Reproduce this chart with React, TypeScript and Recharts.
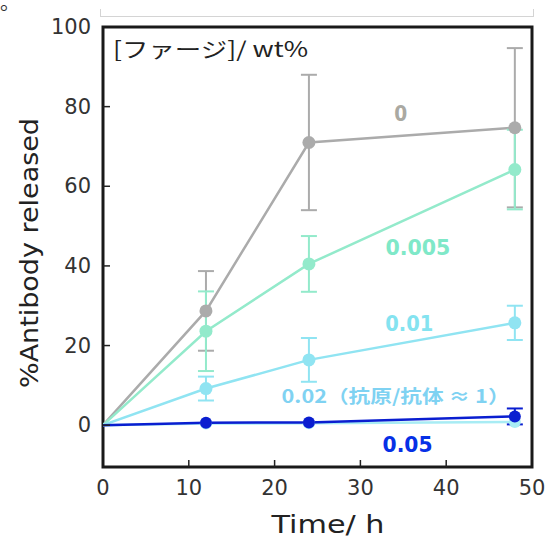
import { LineChart, Line, XAxis, YAxis, ErrorBar, ReferenceArea, ReferenceDot } from 'recharts'

// time points (h)
const times = [0, 12, 24, 48]

// % antibody released for each phage concentration (wt%)
const phage0 = [0, 28.7, 71, 74.7]
const phage0Err = [0, 10, 17, 20]
const phage0005 = [0, 23.6, 40.5, 64.2]
const phage0005Err = [0, 10, 7, 10]
const phage001 = [0, 9.2, 16.4, 25.7]
const phage001Err = [0, 3, 5.5, 4.3]
const phage002 = [0, 0.4, 0.5, 0.8]
const phage002Err = [0, 0, 0, 0]
const phage005 = [0, 0.6, 0.7, 2.2]
const phage005Err = [0, 0, 0, 2]

const xTicks = [0, 10, 20, 30, 40, 50]
const yTicks = [0, 20, 40, 60, 80, 100]

const toRows = (values: number[], errors: number[]) =>
  times.map((t, i) => ({ t, v: values[i], err: errors[i] }))

const series = [
  { id: 's0', rows: toRows(phage0, phage0Err), color: '#ababab', r: 6.5 },
  { id: 's0005', rows: toRows(phage0005, phage0005Err), color: '#93eacb', r: 6.5 },
  { id: 's001', rows: toRows(phage001, phage001Err), color: '#90e4f2', r: 6.5 },
  { id: 's002', rows: toRows(phage002, phage002Err), color: '#a8ecf4', r: 6 },
  { id: 's005', rows: toRows(phage005, phage005Err), color: '#0a1ed0', r: 6 }
]

// labels placed in data coordinates
const labels = [
  { x: 34.7, y: 78.1, text: '0', color: '#aaa9a2', width: 13, cjk: false },
  { x: 36.7, y: 44.5, text: '0.005', color: '#7fe8c8', width: 65, cjk: false },
  { x: 35.7, y: 25.4, text: '0.01', color: '#84e3f0', width: 48, cjk: false },
  { x: 34.1, y: 7.5, text: '0.02（抗原/抗体 ≈ 1）', color: '#7fd2f2', width: 228, cjk: true },
  { x: 35.5, y: -5, text: '0.05', color: '#0630e6', width: 50, cjk: false }
]

const sans = "'DejaVu Sans', Verdana, sans-serif"
const cjk = "'Noto Sans CJK JP', 'DejaVu Sans', sans-serif"

const XTick = (props: any) => {
  const { x, y, payload } = props
  const edge = payload.value === 0 || payload.value === 50
  return (
    <g>
      {!edge && <line x1={x} x2={x} y1={y} y2={y - 7} stroke="#222" strokeWidth={1.5} />}
      <text x={x} y={y + 21} textAnchor="middle" dominantBaseline="central" fontSize={21} fill="#333" fontFamily={sans}>
        {payload.value}
      </text>
    </g>
  )
}

const YTick = (props: any) => {
  const { x, y, payload } = props
  const edge = payload.value === 100
  return (
    <g>
      {!edge && <line x1={x} x2={x + 7} y1={y} y2={y} stroke="#222" strokeWidth={1.5} />}
      <text x={x - 12} y={y} textAnchor="end" dominantBaseline="central" fontSize={21} fill="#333" fontFamily={sans}>
        {payload.value}
      </text>
    </g>
  )
}

const makeDot = (color: string, r: number) => (props: any) => {
  const { cx, cy, index } = props
  if (index === 0 || cx == null || cy == null) return <g key={`d-${index}`} />
  return <circle key={`d-${index}`} cx={cx} cy={cy} r={r} fill={color} stroke="none" />
}

export default function App() {
  return (
    <div style={{ position: 'absolute', left: 0, top: 0, width: 558, height: 538, background: '#fff', overflow: 'hidden' }}>
      <div style={{ position: 'absolute', left: 0, top: -13, fontSize: 20, color: '#333', fontFamily: cjk }}>。</div>
      <div
        style={{
          position: 'absolute',
          left: 100,
          top: 9,
          width: 432,
          height: 7,
          border: '1px solid #d4d4d4',
          borderTop: 'none'
        }}
      />
      <LineChart width={558} height={538} margin={{ top: 27, right: 26, bottom: 70, left: 102 }}>
        <XAxis
          type="number"
          dataKey="t"
          domain={[0, 50]}
          ticks={xTicks}
          interval={0}
          height={1}
          axisLine={false}
          tickLine={false}
          tickSize={0}
          tickMargin={0}
          tick={<XTick />}
          allowDataOverflow
        />
        <YAxis
          type="number"
          domain={[-10.5, 100]}
          ticks={yTicks}
          interval={0}
          width={1}
          axisLine={false}
          tickLine={false}
          tickSize={0}
          tickMargin={0}
          tick={<YTick />}
          allowDataOverflow
        />
        {series.map((s) => (
          <Line
            key={s.id}
            data={s.rows}
            dataKey="v"
            stroke={s.color}
            strokeWidth={2.5}
            dot={makeDot(s.color, s.r)}
            activeDot={false}
            isAnimationActive={false}
          >
            <ErrorBar dataKey="err" direction="y" width={8} strokeWidth={2} stroke={s.color} />
          </Line>
        ))}
        <ReferenceArea x1={0} x2={50} y1={-10.5} y2={100} fill="none" fillOpacity={0} stroke="#1a1a1a" strokeWidth={3} />
        {labels.map((l) => (
          <ReferenceDot
            key={l.text}
            x={l.x}
            y={l.y}
            r={0}
            fill="none"
            stroke="none"
            label={{
              content: (p: any) => (
                <text
                  x={p.viewBox.x}
                  y={p.viewBox.y}
                  textAnchor="middle"
                  dominantBaseline="central"
                  fontSize={l.cjk ? 18 : 21}
                  fontWeight="bold"
                  fill={l.color}
                  fontFamily={l.cjk ? cjk : sans}
                  textLength={l.width}
                  lengthAdjust="spacingAndGlyphs"
                >
                  {l.text}
                </text>
              )
            }}
          />
        ))}
        <text x={113} y={48} dominantBaseline="central" fontSize={21} fill="#222" fontFamily={cjk} textLength={195} lengthAdjust="spacingAndGlyphs">
          [ファージ]/ wt%
        </text>
        <text x={328} y={524} textAnchor="middle" dominantBaseline="central" fontSize={25} fill="#222" fontFamily={sans} textLength={113} lengthAdjust="spacingAndGlyphs">
          Time/ h
        </text>
        <text
          x={30}
          y={253}
          textAnchor="middle"
          dominantBaseline="central"
          fontSize={24}
          fill="#222"
          fontFamily={sans}
          textLength={270}
          lengthAdjust="spacingAndGlyphs"
          transform="rotate(-90 30 253)"
        >
          %Antibody released
        </text>
      </LineChart>
    </div>
  )
}
